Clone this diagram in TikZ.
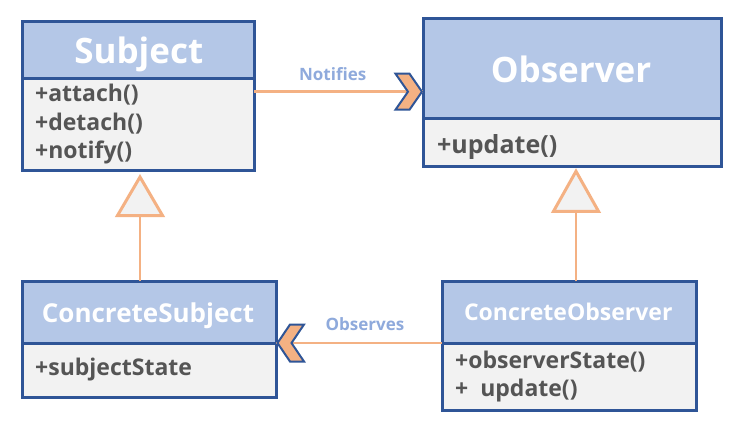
\documentclass[tikz,border=0pt]{standalone}
\usepackage{fontspec}
\setmainfont{Open Sans}
\usetikzlibrary{calc}
\definecolor{hdr}{HTML}{B4C7E7}
\definecolor{bodyc}{HTML}{F2F2F2}
\definecolor{bord}{HTML}{2F5597}
\definecolor{txt}{HTML}{555555}
\definecolor{orng}{HTML}{F4B183}
\definecolor{lbl}{HTML}{8FAADC}
\begin{document}
\begin{tikzpicture}[x=1pt,y=-1pt,
  box/.style={draw=bord, line width=3pt, inner sep=0pt, outer sep=0pt, anchor=north west},
  hdrbox/.style={box, fill=hdr},
  bodybox/.style={box, fill=bodyc},
  bigtitle/.style={text=white, font=\bfseries\fontsize{35}{40}\selectfont, inner sep=0pt, anchor=base},
  smtitle/.style={text=white, font=\bfseries\fontsize{26}{30}\selectfont, inner sep=0pt, anchor=base},
  member/.style={text=txt, font=\bfseries\fontsize{23}{26}\selectfont, inner sep=0pt, anchor=base west},
  lab/.style={text=lbl, font=\bfseries\fontsize{17}{20}\selectfont, inner sep=0pt, anchor=base},
  assoc/.style={draw=orng, line width=2.5pt},
  chev/.style={draw=bord, fill=orng, line width=2pt, line join=miter},
  inh/.style={draw=orng, line width=3pt, fill=bodyc, line join=miter}
]
\useasboundingbox (0,0) rectangle (741,426);
\fill[white] (0,0) rectangle (741,426);

\path (0,91.7) coordinate (ny) (0,341.7) coordinate (oy);
\node[hdrbox, minimum width=232pt, minimum height=57pt] (subjH) at (22,21) {};
\node[bodybox, minimum width=232pt, minimum height=92pt] (subjB) at (22,78) {};
\node[hdrbox, minimum width=298pt, minimum height=100pt] (obsH) at (423,18) {};
\node[bodybox, minimum width=298pt, minimum height=48pt] (obsB) at (423,118) {};
\node[hdrbox, minimum width=254pt, minimum height=62pt] (csH) at (22,281) {};
\node[bodybox, minimum width=254pt, minimum height=54pt] (csB) at (22,343) {};
\node[hdrbox, minimum width=254pt, minimum height=62pt] (coH) at (442,281) {};
\node[bodybox, minimum width=254pt, minimum height=67pt] (coB) at (442,343) {};

% association lines
\draw[assoc] (subjB.east |- ny) -- (obsH.west |- ny);
\draw[assoc] (coH.south west) -- (csH.south east);

% inheritance
\coordinate (ltip) at ($(subjB.south)+(2,7)$);
\coordinate (lbase) at ($(ltip)+(0,38.5)$);
\draw[orng, line width=2.5pt] (lbase |- csH.north) -- (lbase);
\draw[inh] (ltip) -- ($(lbase)+(22.5,0)$) -- ($(lbase)+(-22.5,0)$) -- cycle;
\coordinate (rtip) at ($(obsB.south)+(4,5.3)$);
\coordinate (rbase) at ($(rtip)+(0,40)$);
\draw[orng, line width=2.5pt] (rbase |- coH.north) -- (rbase);
\draw[inh] (rtip) -- ($(rbase)+(22.5,0)$) -- ($(rbase)+(-22.5,0)$) -- cycle;

% chevrons
\coordinate (ntip) at (obsH.west |- ny);
\draw[chev] (ntip) ++(-1,0) -- ++(-12.5,-18) -- ++(-14,0) -- ++(12.5,18) -- ++(-12.5,18) -- ++(14,0) -- cycle;
\coordinate (otip) at (csH.south east);
\draw[chev] (otip) ++(1.5,0) -- ++(12.5,-18.5) -- ++(14,0) -- ++(-12.5,18.5) -- ++(12.5,18.5) -- ++(-14,0) -- cycle;

% labels
\node[lab] (nlab) at (332.7,80.7) {Notifies};
\node[lab] (olab) at (365,330) {Observes};

% titles
\node[bigtitle] (subjT) at (138.8,63.3) {Subject};
\node[bigtitle] (obsT) at (571,82.7) {Observer};
\node[smtitle] (csT) at (148,322.7) {ConcreteSubject};
\node[smtitle, font=\bfseries\fontsize{23}{26}\selectfont] (coT) at (568.3,320) {ConcreteObserver};

% members
\node[member] (m1) at (35,101.7) {+attach()};
\node[member] (m2) at (35,130) {+detach()};
\node[member] (m3) at (35,158.3) {+notify()};
\node[member, font=\bfseries\fontsize{25}{28}\selectfont] (m4) at (437,153.3) {+update()};
\node[member] (m5) at (35,375) {+subjectState};
\node[member] (m6) at (455,368.3) {+observerState()};
\node[member] (m7) at (455,396.7) {+\ \ update()};
\end{tikzpicture}
\end{document}
